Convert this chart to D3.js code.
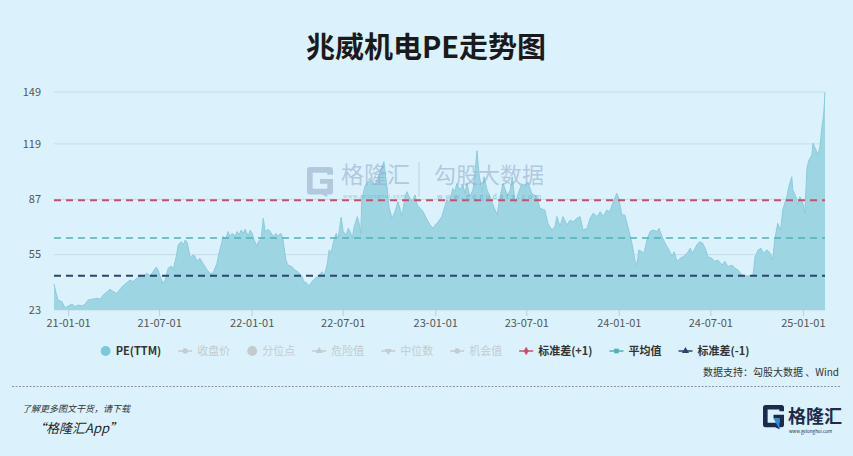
<!DOCTYPE html>
<html><head><meta charset="utf-8">
<script src="https://cdn.jsdelivr.net/npm/d3@7"></script>
<style>html,body{margin:0;padding:0;background:#dbf2fc;}svg{display:block;font-family:"Noto Sans CJK SC","Noto Sans",sans-serif;}</style>
</head><body><svg id="c" width="853" height="456"></svg>
<script>
const title = "兆威机电PE走势图";
const dates = [
"2020-12-04","2020-12-08","2020-12-12","2020-12-20","2020-12-26",
"2021-01-01","2021-01-09","2021-01-15","2021-01-21","2021-01-29",
"2021-02-04","2021-02-10","2021-02-18","2021-02-28","2021-03-06",
"2021-03-12","2021-03-20","2021-03-25","2021-03-31","2021-04-08",
"2021-04-14","2021-04-22","2021-04-28","2021-05-04","2021-05-10",
"2021-05-18","2021-05-24","2021-05-30","2021-06-07","2021-06-13",
"2021-06-19","2021-06-25","2021-06-29","2021-07-03","2021-07-09",
"2021-07-13","2021-07-19","2021-07-25","2021-07-29","2021-08-04",
"2021-08-08","2021-08-14","2021-08-18","2021-08-22","2021-08-26",
"2021-09-01","2021-09-06","2021-09-10","2021-09-14","2021-09-20",
"2021-09-26","2021-10-02","2021-10-10","2021-10-16","2021-10-24",
"2021-10-28","2021-11-03","2021-11-05","2021-11-11","2021-11-15",
"2021-11-19","2021-11-23","2021-11-29","2021-12-03","2021-12-07",
"2021-12-11","2021-12-15","2021-12-19","2021-12-25","2021-12-29",
"2022-01-02","2022-01-06","2022-01-12","2022-01-14","2022-01-20",
"2022-01-24","2022-01-28","2022-02-03","2022-02-07","2022-02-13",
"2022-02-18","2022-02-22","2022-02-28","2022-03-04","2022-03-10",
"2022-03-14","2022-03-22","2022-03-28","2022-04-03","2022-04-11",
"2022-04-15","2022-04-21","2022-04-25","2022-05-01","2022-05-07",
"2022-05-13","2022-05-21","2022-05-25","2022-05-31","2022-06-04",
"2022-06-08","2022-06-12","2022-06-18","2022-06-22","2022-06-28",
"2022-07-02","2022-07-08","2022-07-12","2022-07-16","2022-07-20",
"2022-07-24","2022-07-30","2022-08-02","2022-08-06","2022-08-08",
"2022-08-14","2022-08-20","2022-08-28","2022-09-03","2022-09-09",
"2022-09-17","2022-09-21","2022-09-27","2022-10-01","2022-10-07",
"2022-10-13","2022-10-19","2022-10-27","2022-11-02","2022-11-06",
"2022-11-10","2022-11-16","2022-11-22","2022-11-26","2022-12-02",
"2022-12-08","2022-12-16","2022-12-22","2022-12-28","2023-01-01",
"2023-01-07","2023-01-14","2023-01-20","2023-01-24","2023-01-30",
"2023-02-05","2023-02-09","2023-02-13","2023-02-19","2023-02-25",
"2023-03-01","2023-03-05","2023-03-11","2023-03-17","2023-03-21",
"2023-03-25","2023-03-29","2023-04-04","2023-04-08","2023-04-14",
"2023-04-20","2023-04-26","2023-05-04","2023-05-10","2023-05-16",
"2023-05-24","2023-05-30","2023-06-03","2023-06-09","2023-06-15",
"2023-06-22","2023-06-28","2023-07-04","2023-07-12","2023-07-22",
"2023-07-28","2023-08-07","2023-08-13","2023-08-21","2023-08-27",
"2023-08-31","2023-09-06","2023-09-12","2023-09-20","2023-09-26",
"2023-10-02","2023-10-10","2023-10-16","2023-10-22","2023-10-30",
"2023-11-05","2023-11-11","2023-11-19","2023-11-25","2023-12-01",
"2023-12-08","2023-12-14","2023-12-20","2023-12-28","2024-01-01",
"2024-01-07","2024-01-13","2024-01-19","2024-01-27","2024-02-02",
"2024-02-06","2024-02-10","2024-02-16","2024-02-20","2024-02-26",
"2024-03-03","2024-03-09","2024-03-17","2024-03-21","2024-03-27",
"2024-04-02","2024-04-08","2024-04-16","2024-04-20","2024-04-26",
"2024-05-02","2024-05-08","2024-05-16","2024-05-22","2024-05-27",
"2024-06-04","2024-06-10","2024-06-16","2024-06-22","2024-06-26",
"2024-07-04","2024-07-10","2024-07-16","2024-07-24","2024-07-30",
"2024-08-05","2024-08-13","2024-08-19","2024-08-25","2024-09-02",
"2024-09-08","2024-09-18","2024-09-24","2024-09-28","2024-10-04",
"2024-10-10","2024-10-14","2024-10-22","2024-10-28","2024-11-02",
"2024-11-06","2024-11-12","2024-11-18","2024-11-22","2024-11-30",
"2024-12-04","2024-12-10","2024-12-12","2024-12-18","2024-12-22",
"2024-12-26","2025-01-01","2025-01-05","2025-01-09","2025-01-13",
"2025-01-19","2025-01-21","2025-01-27","2025-01-31","2025-02-04",
"2025-02-08","2025-02-10","2025-02-12","2025-02-14"];
const pe = [
38,32.8,28.8,27.8,24.2,
25.3,26.5,24.9,25.9,25.3,
26.5,28.8,29.2,29.8,29.2,
31.7,33.6,35,33.8,32.6,
35,37.5,38.8,40.3,39.4,
41.3,42.3,42.7,44.2,42.7,
45.1,47.7,46.1,42.3,38.4,
40.3,47.1,48.4,46.5,53.8,
60.6,62.5,60.6,63.5,61.9,
52.9,54.8,54.2,51.1,52.9,
50,47.1,44.2,44.2,50,
55.8,62.5,65.4,64.4,68.3,
65.4,67.3,65.8,68.3,66.4,
69.2,67.3,69.6,65.8,69.2,
67.3,63.5,59.6,62.5,64.4,
76,68.3,69.6,68.3,65.4,
67.3,65.8,67.3,64.4,51.9,
49,48,46.1,45.1,42.3,
39.4,38.4,36.9,39.4,41.3,
42.3,45.1,42.7,49,57.7,
55.8,61.6,67.3,64.4,76.6,
68.3,66.4,70.2,68.3,64.4,
71.2,76.9,74,67.3,86.6,
94.3,97.2,98.1,95.3,99.1,
105.8,108.7,94.3,82.7,76,
79.8,85.6,77,88.5,91.4,
88.5,85.6,89.5,83.7,81.8,
79.8,75,72.1,70.2,72.1,
74,77,82.7,86.6,85.6,
93.3,91.4,96.2,92.4,95.3,
90.4,96.2,88.5,92.4,102,
115,102,91.4,100,92.4,
88.5,83.7,77.9,88.5,96,
89.5,92,100,84.7,90.4,
96,94.3,97,90.4,88.5,
81.8,80.8,73.1,69.2,71.2,
77,71.2,77,72.1,75,
74,76,77,69.2,70.2,
76,78.9,77,79.8,77,
80.8,79.8,84.7,90.4,87.6,
77.9,77.9,71.2,61.6,51.9,
49,57.7,56.7,55.8,63.5,
68.3,69.2,68.3,70.2,65.4,
61.6,58.7,53.8,56.7,51.1,
52.9,53.8,55.8,58.7,55.8,
60.6,62.5,61.6,57.7,53.8,
52.9,51.1,51.9,49,51.1,
48,49,47.1,46.1,43.2,
42.7,42.7,43.2,53.8,57.7,
58.7,55.8,57.7,55.8,51.9,
63.5,73.1,69.2,80.8,88.5,
94.3,100,92.4,88.5,83.7,
88.5,84.7,78.9,104.8,109.6,
112.6,119.4,115.5,112.6,117.4,
129,132.8,138.6,149];
const yTicks = [23,55,87,119,149];
const xTicks = ["2021-01-01","2021-07-01","2022-01-01","2022-07-01","2023-01-01","2023-07-01","2024-01-01","2024-07-01","2025-01-01"];
const refNames = ["标准差(+1)","平均值","标准差(-1)"];
const refValues = [86.4,64.6,42.8];
const legendNames = ["PE(TTM)","收盘价","分位点","危险值","中位数","机会值","标准差(+1)","平均值","标准差(-1)"];
const sourceText = "数据支持：勾股大数据 、Wind";
const footerLine1 = "了解更多图文干货，请下载";
const footerLine2 = "“格隆汇App”";

// ---------- rendering ----------
const W=853,H=456;
const svg=d3.select("#c");
svg.append("rect").attr("width",W).attr("height",H).attr("fill","#dbf2fc");
const parse=d3.timeParse("%Y-%m-%d");
const data=dates.map((d,i)=>({date:parse(d),v:pe[i]}));
const x=d3.scaleTime().domain(d3.extent(data,d=>d.date)).range([54,825]);
const y=d3.scaleLinear().domain(d3.extent(yTicks)).range([310,92]);

// title
svg.append("text").attr("x",426).attr("y",45).attr("text-anchor","middle")
  .attr("dominant-baseline","central").attr("font-size",29).attr("font-weight","bold")
  .attr("fill","#1a1a1a").text(title);

// grid
svg.append("g").selectAll("line").data(yTicks).join("line")
  .attr("x1",54).attr("x2",825).attr("y1",d=>y(d)).attr("y2",d=>y(d))
  .attr("stroke","#c3dde8").attr("stroke-width",1);
svg.append("g").selectAll("text").data(yTicks).join("text")
  .attr("x",41).attr("y",d=>y(d)).attr("dy","0.35em").attr("text-anchor","end")
  .attr("font-size",11).attr("fill","#555").text(d=>d);

// area
const area=d3.area().x(d=>x(d.date)).y0(y(yTicks[0])).y1(d=>y(d.v)).curve(d3.curveLinear);
svg.append("path").datum(data).attr("d",area).attr("fill","#9dd5e3");
const line=d3.line().x(d=>x(d.date)).y(d=>y(d.v));
svg.append("path").datum(data).attr("d",line).attr("fill","none").attr("stroke","#8ccbdc").attr("stroke-width",1);

// x axis
const xAxis=d3.axisBottom(x).tickValues(xTicks.map(parse)).tickFormat(d3.timeFormat("%y-%m-%d")).tickSize(6).tickPadding(3);
const gx=svg.append("g").attr("transform",`translate(0,${y(yTicks[0])})`).call(xAxis);
gx.select(".domain").remove();
gx.selectAll(".tick line").attr("stroke","#b9cfd8");
gx.selectAll(".tick text").attr("font-size",11).attr("fill","#555").attr("font-family",'"Noto Sans CJK SC",sans-serif');

// reference lines
const refColors=["#c8506a","#4db3b9","#2c4670"];
const refWidths=[2,1.6,2];
svg.append("g").selectAll("line").data(refValues).join("line")
  .attr("x1",54).attr("x2",825).attr("y1",d=>y(d)).attr("y2",d=>y(d))
  .attr("stroke",(d,i)=>refColors[i]).attr("stroke-width",(d,i)=>refWidths[i])
  .attr("stroke-dasharray","7,5");

// G logo path (unit box)
function gPath(x0,y0,s){
  const p=(a,b)=>`${(x0+a*s).toFixed(2)},${(y0+b*s).toFixed(2)}`;
  return `M${p(1,0.3)}L${p(1,0.12)}Q${p(1,0)} ${p(0.88,0)}L${p(0.12,0)}Q${p(0,0)} ${p(0,0.12)}L${p(0,0.94)}Q${p(0,1.06)} ${p(0.12,1.06)}L${p(0.58,1.06)}L${p(0.78,1.16)}L${p(0.78,1.06)}L${p(0.88,1.06)}Q${p(1,1.06)} ${p(1,0.94)}L${p(1,0.46)}L${p(0.5,0.46)}L${p(0.5,0.64)}L${p(0.78,0.64)}L${p(0.78,0.84)}L${p(0.22,0.84)}L${p(0.22,0.22)}L${p(0.78,0.22)}L${p(0.78,0.3)}Z`;
}
// watermark
const wm=svg.append("g").attr("opacity",0.55);
wm.append("path").attr("d",gPath(307,167,26)).attr("fill","#8fa9c9");
wm.append("text").attr("x",341).attr("y",183).attr("font-size",23).attr("fill","#8fa9c9").text("格隆汇");
wm.append("text").attr("x",343).attr("y",198).attr("font-size",5.5).attr("fill","#7f9cc0").attr("letter-spacing",0.6).text("www.gelonghui.com");
wm.append("line").attr("x1",419).attr("x2",419).attr("y1",162).attr("y2",197).attr("stroke","#9fb6cf").attr("stroke-width",1);
wm.append("text").attr("x",434).attr("y",183).attr("font-size",22).attr("fill","#8fa9c9").text("勾股大数据");
wm.append("text").attr("x",437).attr("y",199).attr("font-size",7).attr("fill","#6f8fb8").attr("letter-spacing",2.6).text("www.gogudata.com");

// legend
const legendKinds=["dot","lineCircle","dot","lineTri","lineTriDown","lineCircle","lineDiamond","lineSquare","lineTri"];
const legendActive=[true,false,false,false,false,false,true,true,true];
const legendColors=["#7fc8da",null,null,null,null,null,"#c8506a","#4db3b9","#2c4670"];
const inactive="#c3cbd0";
const lg=svg.append("g");
let cx=0;
const symMap={lineCircle:d3.symbolCircle,lineTri:d3.symbolTriangle,lineTriDown:d3.symbolTriangle,lineDiamond:d3.symbolDiamond,lineSquare:d3.symbolSquare};
legendNames.forEach((name,i)=>{
  const it=lg.append("g");
  const col=legendActive[i]?legendColors[i]:inactive;
  const kind=legendKinds[i];
  let mw;
  if(kind==="dot"){
    mw=10;
    it.append("circle").attr("cx",5).attr("cy",0).attr("r",5).attr("fill",col);
  } else {
    mw=14;
    it.append("line").attr("x1",0).attr("x2",14).attr("y1",0).attr("y2",0).attr("stroke",col).attr("stroke-width",1.5);
    it.append("path").attr("d",d3.symbol().type(symMap[kind]).size(22)())
      .attr("transform",`translate(7,0)${kind==="lineTriDown"?" rotate(180)":""}`).attr("fill",col);
  }
  const t=it.append("text").attr("x",mw+5).attr("y",0).attr("dy","0.35em")
    .attr("font-size",11).attr("font-weight",legendActive[i]?"bold":"normal")
    .attr("fill",legendActive[i]?"#333":inactive).text(name);
  it.attr("transform",`translate(${cx},351)`);
  cx+=mw+5+t.node().getComputedTextLength()+17;
});
const total=cx-17;
lg.attr("transform",`translate(${425-total/2},0)`);

// source
svg.append("text").attr("x",839).attr("y",376).attr("text-anchor","end").attr("font-size",10)
  .attr("fill","#333").text(sourceText);
svg.append("line").attr("x1",12).attr("x2",841).attr("y1",386.5).attr("y2",386.5)
  .attr("stroke","#8a9399").attr("stroke-width",1).attr("stroke-dasharray","2,1.5");

// footer
svg.append("text").attr("x",22).attr("y",412).attr("font-size",9).attr("font-style","italic")
  .attr("fill","#333").text(footerLine1);
svg.append("text").attr("x",33).attr("y",433).attr("font-size",13).attr("font-style","italic")
  .attr("fill","#222").text(footerLine2);

// logo
svg.append("path").attr("d",gPath(763,405,21)).attr("fill","#1c2b4b");
svg.append("path").attr("d",`M${763+0.5*21},${405+0.64*21}L${763+0.78*21},${405+0.64*21}L${763+0.78*21},${405+1.16*21}Z`).attr("fill","#2a8fd8");
svg.append("text").attr("x",788).attr("y",423).attr("font-size",18).attr("font-weight","bold").attr("fill","#1c2b4b").text("格隆汇");
svg.append("text").attr("x",789).attr("y",433).attr("font-size",4.5).attr("fill","#1c2b4b").text("www.gelonghui.com");
</script></body></html>
